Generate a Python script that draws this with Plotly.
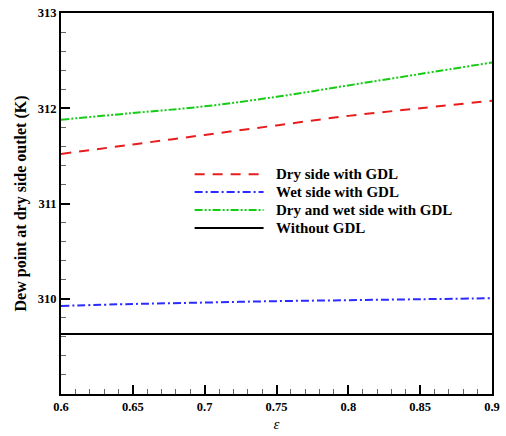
import plotly.graph_objects as go

# Porosity values (epsilon) and dew point at the dry-side outlet (K)
eps = [0.6, 0.65, 0.7, 0.75, 0.8, 0.85, 0.9]
dry_side_gdl = [311.52, 311.62, 311.72, 311.82, 311.92, 312.00, 312.08]
wet_side_gdl = [309.925, 309.945, 309.96, 309.975, 309.985, 309.995, 310.005]
dry_wet_gdl = [311.88, 311.95, 312.02, 312.12, 312.24, 312.36, 312.48]
without_gdl = [309.63, 309.63, 309.63, 309.63, 309.63, 309.63, 309.63]

series_names = ["Dry side with GDL", "Wet side with GDL",
                "Dry and wet side with GDL", "Without GDL"]
x_tick_vals = [0.6, 0.65, 0.7, 0.75, 0.8, 0.85, 0.9]
x_tick_text = ["0.6", "0.65", "0.7", "0.75", "0.8", "0.85", "0.9"]
y_tick_vals = [310, 311, 312, 313]
y_tick_text = ["310", "311", "312", "313"]

styles = [
    dict(color="#e81c1c", dash="10px,8px"),
    dict(color="#2b2bff", dash="8px,3px,2px,3px"),
    dict(color="#14cc14", dash="8px,2px,2px,2px,2px,2px"),
    dict(color="#000000", dash="solid"),
]
values = [dry_side_gdl, wet_side_gdl, dry_wet_gdl, without_gdl]

FONT = "Liberation Serif"

fig = go.Figure()
for name, ys, st in zip(series_names, values, styles):
    fig.add_trace(go.Scatter(
        x=eps, y=ys, mode="lines", name=name, showlegend=False,
        line=dict(color=st["color"], dash=st["dash"], width=2, shape="spline"),
    ))

# Hand-drawn legend box inside the plot area
legend_top = 0.577
row_step = 0.047
for i, (name, st) in enumerate(zip(series_names, styles)):
    yy = legend_top - i * row_step
    fig.add_shape(type="line", xref="paper", yref="paper",
                  x0=0.31, x1=0.47, y0=yy, y1=yy,
                  line=dict(color=st["color"], dash=st["dash"], width=2))
    fig.add_annotation(xref="paper", yref="paper", x=0.495, y=yy,
                       text=f"<b>{name}</b>", showarrow=False,
                       xanchor="left", yanchor="middle",
                       font=dict(family=FONT, size=15, color="black"))

axis_common = dict(
    showline=True, mirror=True, linecolor="black", linewidth=2,
    showgrid=False, zeroline=False, ticks="inside", ticklen=9,
    tickwidth=2, tickcolor="black",
    tickfont=dict(family=FONT, size=12.5, color="black"),
)

fig.update_xaxes(
    range=[0.6, 0.9], tickvals=x_tick_vals,
    ticktext=[f"<b>{t}</b>" for t in x_tick_text],
    title=dict(text="<i>ε</i>", font=dict(family=FONT, size=15, color="black"),
               standoff=5),
    minor=dict(dtick=0.01, ticks="inside", ticklen=5, tickcolor="#666666",
               tickwidth=1),
    **axis_common,
)
fig.update_yaxes(
    range=[309, 313], tickvals=y_tick_vals,
    ticktext=[f"<b>{t}</b>" for t in y_tick_text],
    title=dict(text="<b>Dew point at dry side outlet (K)</b>",
               font=dict(family=FONT, size=16, color="black"), standoff=7),
    minor=dict(dtick=0.2, ticks="inside", ticklen=5, tickcolor="#666666",
               tickwidth=1),
    **axis_common,
)

fig.update_layout(
    width=506, height=436,
    margin=dict(l=61, r=14, t=6, b=36),
    paper_bgcolor="white", plot_bgcolor="white",
    font=dict(family=FONT, color="black"),
)

fig.write_html("out.html")
